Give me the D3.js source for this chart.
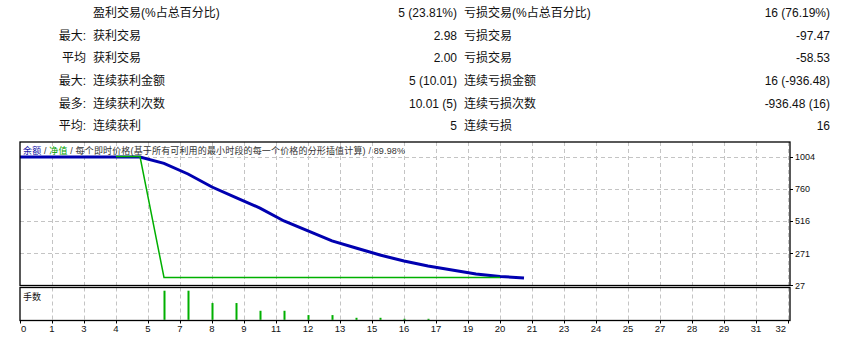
<!DOCTYPE html>
<html>
<head>
<meta charset="utf-8">
<script src="https://cdn.jsdelivr.net/npm/d3@7"></script>
<style>
	html, body { margin: 0; padding: 0; background: #fff; }
	svg { display: block; }
	text { font-family: "Liberation Sans", "Noto Sans CJK SC", sans-serif; fill: #111; }
</style>
</head>
<body>
<div id="chart"></div>
<script>

// Summary table (rows of the tester report):
var rowPrefix = ['', '最大:', '平均', '最大:', '最多:', '平均:'];
var winLabels = ['盈利交易(%占总百分比)', '获利交易', '获利交易', '连续获利金额', '连续获利次数', '连续获利'];
var winValues = ['5 (23.81%)', '2.98', '2.00', '5 (10.01)', '10.01 (5)', '5'];
var lossLabels = ['亏损交易(%占总百分比)', '亏损交易', '亏损交易', '连续亏损金额', '连续亏损次数', '连续亏损'];
var lossValues = ['16 (76.19%)', '-97.47', '-58.53', '16 (-936.48)', '-936.48 (16)', '16'];

// Balance after each trade (trade 0..21):
var balance = [1000, 1000, 1000, 1000, 1000, 1000, 952, 871, 772, 692, 612, 514, 438, 362, 308, 255, 209, 171, 141, 111, 92, 80];

// Equity, drawn from trade 4 on:
var equityStart = 4;
var equity = [1004, 1004, 84, 84, 84, 84, 84, 84, 84, 84, 84, 84, 84, 84, 84, 84, 84];

// Lot sizes, from trade 6 on:
var lotStart = 6;
var lots = [2.9, 2.9, 1.67, 1.67, 0.9, 0.9, 0.47, 0.47, 0.2, 0.2, 0.1, 0.1];

// Axis labels:
var yTicks = [27, 271, 516, 760, 1004];
var xTickLabels = [0, 1, 3, 4, 5, 7, 8, 9, 11, 12, 13, 15, 16, 17, 19, 20, 21, 23, 24, 25, 27, 28, 29, 31, 32];
var xTickStep = 4 / 3;

// Legend pieces:
var legendParts = [
	{ text: '余额', color: '#1414a8' },
	{ text: ' / ', color: '#333' },
	{ text: '净值', color: '#00a000' },
	{ text: ' / 每个即时价格(基于所有可利用的最小时段的每一个价格的分形插值计算) / 89.98%', color: '#333' }
];

var width = 855,
	height = 338,
	frame = { left: 20, right: 790, top: 142, bottom: 285.5 },
	vol = { top: 287.5, bottom: 320.5 },
	gridColor = '#c4c4c4';

var svg = d3.select('#chart').append('svg')
	.attr('width', width)
	.attr('height', height);

// Table:
var rowY = function( i ) { return 12.5 + i * 22.7; };

var table = svg.append('g').attr('class', 'table')
	.style('font-size', '12px');

var addCol = function( arr, x, anchor ) {
	table.selectAll(null)
		.data(arr)
		.enter().append('text')
			.attr('x', x)
			.attr('y', function( d, i ) { return rowY(i); })
			.attr('dy', '0.36em')
			.attr('text-anchor', anchor)
			.text(function( d ) { return d; });
};

addCol(rowPrefix, 86, 'end');
addCol(winLabels, 93, 'start');
addCol(winValues, 457, 'end');
addCol(lossLabels, 464, 'start');
addCol(lossValues, 830, 'end');

// Scales:
var x = d3.scaleLinear()
	.domain([0, 32])
	.range([frame.left, frame.left + 768]);

var y = d3.scaleLinear()
	.domain([27, 1004])
	.range([285, 156.5]);

var yVol = d3.scaleLinear()
	.domain([0, 2.9])
	.range([319.8, 290.7]);

var gridX = d3.range(1, xTickLabels.length).map(function( k ) { return x(k * xTickStep); });

// Main panel grid:
var grid = svg.append('g').attr('class', 'grid')
	.attr('stroke', gridColor)
	.attr('stroke-dasharray', '4,3')
	.attr('stroke-width', 1);

grid.selectAll(null)
	.data(gridX)
	.enter().append('line')
		.attr('x1', function( d ) { return Math.round(d) + 0.5; })
		.attr('x2', function( d ) { return Math.round(d) + 0.5; })
		.attr('y1', frame.top)
		.attr('y2', frame.bottom);

grid.selectAll(null)
	.data(yTicks.slice(1))
	.enter().append('line')
		.attr('x1', frame.left)
		.attr('x2', frame.right)
		.attr('y1', function( d ) { return Math.round(y(d)) + 0.5; })
		.attr('y2', function( d ) { return Math.round(y(d)) + 0.5; });

// Volume panel grid:
grid.selectAll(null)
	.data(gridX)
	.enter().append('line')
		.attr('x1', function( d ) { return Math.round(d) + 0.5; })
		.attr('x2', function( d ) { return Math.round(d) + 0.5; })
		.attr('y1', vol.top)
		.attr('y2', vol.bottom);

// Lines:
var line = d3.line()
	.x(function( d ) { return x(d[0]); })
	.y(function( d ) { return y(d[1]); });

svg.append('path')
	.datum(balance.map(function( v, i ) { return [i, v]; }))
	.attr('d', line)
	.attr('fill', 'none')
	.attr('stroke', '#0000b0')
	.attr('stroke-width', 3);

svg.append('path')
	.datum(equity.map(function( v, i ) { return [i + equityStart, v]; }))
	.attr('d', line)
	.attr('fill', 'none')
	.attr('stroke', '#00b000')
	.attr('stroke-width', 1.5);

// Lot bars:
svg.append('g').attr('class', 'lots')
	.selectAll('rect')
	.data(lots)
	.enter().append('rect')
		.attr('x', function( d, i ) { return x(i + lotStart) - 0.5; })
		.attr('width', 2)
		.attr('y', function( d ) { return yVol(d); })
		.attr('height', function( d ) { return yVol(0) - yVol(d); })
		.attr('fill', '#00b000');

// Panel frames:
svg.append('rect')
	.attr('x', frame.left).attr('y', frame.top)
	.attr('width', frame.right - frame.left).attr('height', frame.bottom - frame.top)
	.attr('fill', 'none').attr('stroke', '#000').attr('stroke-width', 1.3);

svg.append('rect')
	.attr('x', frame.left).attr('y', vol.top)
	.attr('width', frame.right - frame.left).attr('height', vol.bottom - vol.top)
	.attr('fill', 'none').attr('stroke', '#000').attr('stroke-width', 1.3);

// Legend:
var legend = svg.append('text')
	.attr('x', 23)
	.attr('y', 151)
	.attr('dy', '0.36em')
	.style('font-size', '9px')
	.attr('textLength', 382);

legend.selectAll('tspan')
	.data(legendParts)
	.enter().append('tspan')
		.style('fill', function( d ) { return d.color; })
		.text(function( d ) { return d.text; });

svg.append('text')
	.attr('x', 23)
	.attr('y', 297)
	.attr('dy', '0.36em')
	.style('font-size', '9px')
	.text('手数');

// Right axis:
var yAxis = svg.append('g').attr('class', 'y-axis')
	.style('font-size', '9px');

yAxis.selectAll('line')
	.data(yTicks)
	.enter().append('line')
		.attr('x1', frame.right)
		.attr('x2', frame.right + 3)
		.attr('y1', function( d ) { return Math.round(y(d)) + 0.5; })
		.attr('y2', function( d ) { return Math.round(y(d)) + 0.5; })
		.attr('stroke', '#000');

yAxis.selectAll('text')
	.data(yTicks)
	.enter().append('text')
		.attr('x', 795)
		.attr('y', function( d ) { return y(d) + 0.5; })
		.attr('dy', '0.36em')
		.text(function( d ) { return d; });

// Bottom axis:
var xAxis = svg.append('g').attr('class', 'x-axis')
	.style('font-size', '9.5px');

xAxis.selectAll('line')
	.data(xTickLabels)
	.enter().append('line')
		.attr('x1', function( d, i ) { return Math.round(x(i * xTickStep)) + 0.5; })
		.attr('x2', function( d, i ) { return Math.round(x(i * xTickStep)) + 0.5; })
		.attr('y1', vol.bottom)
		.attr('y2', vol.bottom + 3)
		.attr('stroke', '#000');

xAxis.selectAll('text')
	.data(xTickLabels)
	.enter().append('text')
		.attr('x', function( d, i ) {
			if ( i === 0 ) { return x(0) + 1; }
			if ( i === xTickLabels.length - 1 ) { return x(i * xTickStep) - 2; }
			return x(i * xTickStep);
		})
		.attr('y', 328.5)
		.attr('dy', '0.36em')
		.attr('text-anchor', function( d, i ) {
			if ( i === 0 ) { return 'start'; }
			if ( i === xTickLabels.length - 1 ) { return 'end'; }
			return 'middle';
		})
		.text(function( d ) { return d; });

</script>
</body>
</html>
